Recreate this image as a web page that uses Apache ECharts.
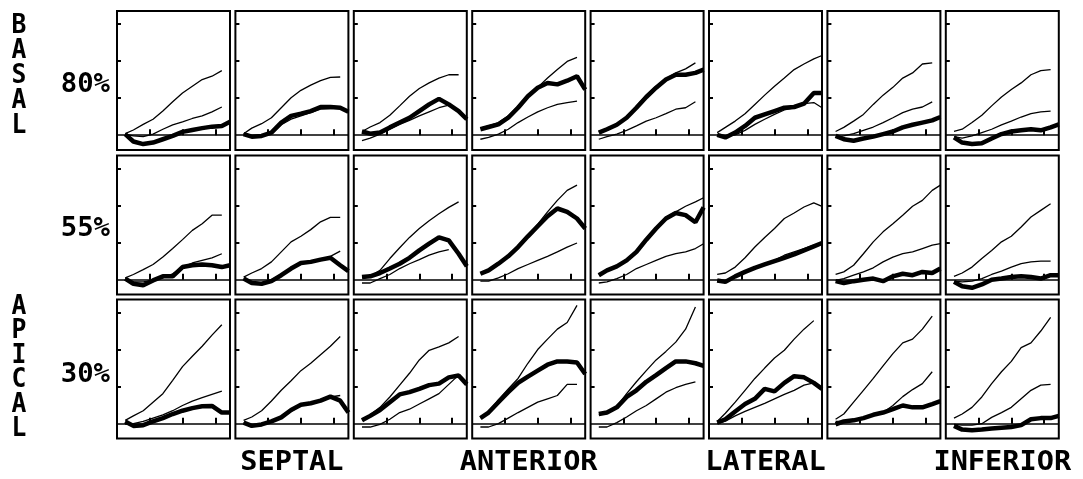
<!DOCTYPE html>
<html>
<head>
<meta charset="utf-8">
<script src="https://cdn.jsdelivr.net/npm/echarts@6/dist/echarts.min.js"></script>
<style>
  html, body { margin: 0; padding: 0; background: #fff; }
  #chart { width: 1083px; height: 479px; }
</style>
</head>
<body>
<div id="chart"></div>
<script>
// ---- data ----
const XS = [0.25, 0.5, 0.8, 1.1, 1.4, 1.7, 2.0, 2.3, 2.6, 2.9, 3.2, 3.45];
const X_TICKS = [1, 2, 3];
const Y_TICKS = [1, 2, 3];
const ROW_LABELS = ['80%', '55%', '30%'];
const SEGMENT_LABELS = ['SEPTAL', 'ANTERIOR', 'LATERAL', 'INFERIOR'];
const SEGMENT_COLS = [1, 3, 5, 7];
const REGION_TOP = 'BASAL';
const REGION_BOTTOM = 'APICAL';

// Row 1 (basal, 80%)
const basalThick = [
  [0.03, -0.17, -0.24, -0.20, -0.11, -0.02, 0.09, 0.14, 0.19, 0.23, 0.25, 0.36],
  [0.03, -0.04, -0.02, 0.07, 0.34, 0.52, 0.58, 0.65, 0.76, 0.76, 0.74, 0.63],
  [0.10, 0.04, 0.07, 0.21, 0.34, 0.47, 0.65, 0.83, 0.98, 0.83, 0.65, 0.43],
  [0.16, 0.22, 0.29, 0.47, 0.74, 1.05, 1.28, 1.41, 1.37, 1.47, 1.59, 1.23],
  [0.07, 0.16, 0.28, 0.47, 0.74, 1.03, 1.28, 1.50, 1.63, 1.63, 1.68, 1.77],
  [0.01, -0.06, 0.07, 0.25, 0.47, 0.56, 0.65, 0.74, 0.76, 0.85, 1.14, 1.14],
  [-0.02, -0.11, -0.15, -0.09, -0.04, 0.03, 0.10, 0.21, 0.28, 0.34, 0.40, 0.49],
  [-0.06, -0.20, -0.24, -0.22, -0.09, 0.03, 0.10, 0.13, 0.16, 0.13, 0.21, 0.29]
];
const basalUpper = [
  [0.04, 0.14, 0.29, 0.43, 0.65, 0.90, 1.14, 1.32, 1.50, 1.59, 1.74, null],
  [0.04, 0.19, 0.31, 0.47, 0.74, 1.01, 1.21, 1.35, 1.47, 1.56, 1.57, null],
  [0.10, 0.22, 0.34, 0.54, 0.79, 1.05, 1.26, 1.41, 1.54, 1.63, 1.63, null],
  [0.19, 0.25, 0.34, 0.52, 0.79, 1.08, 1.29, 1.54, 1.77, 1.99, 2.10, null],
  [0.09, 0.18, 0.29, 0.49, 0.79, 1.08, 1.32, 1.52, 1.68, 1.79, 1.95, null],
  [0.07, 0.21, 0.38, 0.58, 0.83, 1.08, 1.32, 1.54, 1.77, 1.92, 2.06, 2.15],
  [0.10, 0.21, 0.38, 0.56, 0.83, 1.08, 1.29, 1.54, 1.68, 1.92, 1.95, null],
  [0.10, 0.16, 0.34, 0.54, 0.79, 1.03, 1.23, 1.41, 1.63, 1.74, 1.77, null]
];
const basalLower = [
  [0.03, -0.02, -0.04, 0.03, 0.16, 0.28, 0.36, 0.45, 0.52, 0.63, 0.76, null],
  [0.03, -0.03, -0.02, 0.04, 0.28, 0.43, 0.52, 0.61, 0.70, 0.72, 0.74, null],
  [-0.15, -0.08, 0.03, 0.16, 0.29, 0.40, 0.52, 0.63, 0.74, 0.81, null, null],
  [-0.11, -0.06, 0.03, 0.16, 0.34, 0.49, 0.63, 0.74, 0.83, 0.88, 0.92, null],
  [-0.11, -0.04, 0.03, 0.13, 0.25, 0.38, 0.47, 0.58, 0.70, 0.74, 0.90, null],
  [0.01, -0.04, 0.01, 0.13, 0.29, 0.43, 0.56, 0.68, 0.74, 0.85, 0.88, 0.74],
  [-0.06, -0.02, 0.04, 0.13, 0.22, 0.34, 0.47, 0.61, 0.70, 0.76, 0.90, null],
  [-0.04, -0.08, -0.02, 0.07, 0.16, 0.28, 0.38, 0.49, 0.58, 0.63, 0.65, null]
];

// Row 2 (55%)
const midThick = [
  [0.03, -0.11, -0.15, -0.02, 0.09, 0.09, 0.34, 0.39, 0.41, 0.39, 0.34, 0.39],
  [0.03, -0.09, -0.11, -0.04, 0.12, 0.30, 0.45, 0.48, 0.54, 0.59, 0.39, 0.23],
  [0.07, 0.09, 0.18, 0.30, 0.43, 0.59, 0.79, 0.97, 1.14, 1.06, 0.70, 0.36],
  [0.16, 0.25, 0.43, 0.63, 0.88, 1.17, 1.44, 1.71, 1.92, 1.83, 1.65, 1.38],
  [0.12, 0.25, 0.36, 0.52, 0.75, 1.08, 1.38, 1.65, 1.80, 1.74, 1.55, 1.95],
  [-0.02, -0.06, 0.09, 0.21, 0.32, 0.41, 0.50, 0.59, 0.68, 0.79, 0.90, 0.99],
  [-0.04, -0.09, -0.04, 0.00, 0.03, -0.04, 0.09, 0.16, 0.12, 0.21, 0.18, 0.30],
  [-0.06, -0.18, -0.22, -0.13, 0.00, 0.03, 0.07, 0.09, 0.07, 0.03, 0.12, 0.12]
];
const midUpper = [
  [0.05, 0.14, 0.27, 0.41, 0.61, 0.84, 1.08, 1.33, 1.51, 1.74, 1.74, null],
  [0.07, 0.18, 0.30, 0.48, 0.75, 1.02, 1.17, 1.35, 1.56, 1.68, 1.68, null],
  [0.09, 0.09, 0.25, 0.57, 0.86, 1.14, 1.38, 1.59, 1.78, 1.95, 2.10, null],
  [0.18, 0.27, 0.45, 0.66, 0.91, 1.20, 1.50, 1.83, 2.14, 2.41, 2.55, null],
  [0.14, 0.27, 0.38, 0.54, 0.77, 1.11, 1.41, 1.68, 1.83, 1.98, 2.10, 2.21],
  [0.14, 0.18, 0.34, 0.59, 0.88, 1.14, 1.38, 1.65, 1.80, 1.96, 2.07, 1.98],
  [0.14, 0.21, 0.39, 0.70, 1.02, 1.29, 1.51, 1.74, 1.98, 2.14, 2.41, 2.55],
  [0.09, 0.18, 0.34, 0.57, 0.79, 1.02, 1.17, 1.42, 1.69, 1.87, 2.05, null]
];
const midLower = [
  [0.03, -0.06, -0.06, -0.02, 0.05, 0.16, 0.34, 0.45, 0.52, 0.59, 0.70, null],
  [0.03, -0.06, -0.09, 0.00, 0.14, 0.30, 0.43, 0.48, 0.52, 0.63, 0.77, null],
  [-0.09, -0.09, 0.03, 0.14, 0.30, 0.43, 0.54, 0.66, 0.75, 0.81, null, null],
  [-0.04, -0.04, 0.05, 0.16, 0.30, 0.41, 0.52, 0.63, 0.75, 0.88, 0.99, null],
  [-0.09, -0.06, 0.03, 0.14, 0.30, 0.41, 0.52, 0.63, 0.70, 0.75, 0.84, 0.97],
  [-0.02, -0.05, 0.07, 0.20, 0.31, 0.40, 0.52, 0.66, 0.75, 0.84, 0.93, null],
  [-0.02, 0.03, 0.12, 0.21, 0.32, 0.48, 0.61, 0.70, 0.75, 0.84, 0.93, 0.97],
  [-0.04, -0.06, -0.04, 0.03, 0.14, 0.23, 0.34, 0.43, 0.48, 0.50, 0.50, null]
];

// Row 3 (apical, 30%)
const apicalThick = [
  [0.06, -0.06, -0.04, 0.06, 0.15, 0.26, 0.35, 0.42, 0.47, 0.48, 0.30, 0.30],
  [0.03, -0.06, -0.02, 0.06, 0.17, 0.37, 0.51, 0.55, 0.62, 0.73, 0.62, 0.30],
  [0.09, 0.21, 0.37, 0.58, 0.79, 0.85, 0.94, 1.04, 1.08, 1.25, 1.30, 1.06],
  [0.15, 0.30, 0.58, 0.85, 1.10, 1.27, 1.43, 1.59, 1.68, 1.68, 1.65, 1.34],
  [0.26, 0.30, 0.44, 0.72, 0.90, 1.13, 1.31, 1.50, 1.68, 1.68, 1.63, 1.56],
  [0.03, 0.12, 0.33, 0.53, 0.67, 0.94, 0.87, 1.10, 1.28, 1.25, 1.10, 0.94],
  [-0.02, 0.06, 0.09, 0.15, 0.24, 0.30, 0.39, 0.49, 0.44, 0.44, 0.53, 0.61],
  [-0.06, -0.16, -0.18, -0.16, -0.13, -0.11, -0.09, -0.04, 0.12, 0.15, 0.15, 0.21]
];
const apicalUpper = [
  [0.09, 0.21, 0.35, 0.58, 0.81, 1.17, 1.54, 1.82, 2.09, 2.39, 2.67, null],
  [0.09, 0.18, 0.35, 0.61, 0.90, 1.16, 1.43, 1.63, 1.86, 2.09, 2.35, null],
  [0.09, 0.24, 0.44, 0.72, 1.04, 1.36, 1.72, 1.98, 2.07, 2.18, 2.35, null],
  [0.15, 0.33, 0.64, 0.94, 1.22, 1.63, 2.00, 2.28, 2.55, 2.73, 3.19, null],
  [0.24, 0.30, 0.46, 0.81, 1.13, 1.43, 1.72, 1.95, 2.20, 2.55, 3.15, null],
  [0.06, 0.28, 0.58, 0.90, 1.22, 1.50, 1.77, 1.98, 2.28, 2.55, 2.78, null],
  [0.12, 0.26, 0.58, 0.90, 1.22, 1.56, 1.89, 2.18, 2.28, 2.55, 2.90, null],
  [0.15, 0.26, 0.44, 0.72, 1.08, 1.40, 1.68, 2.05, 2.18, 2.50, 2.87, null]
];
const apicalLower = [
  [-0.02, 0.00, 0.06, 0.15, 0.24, 0.35, 0.49, 0.61, 0.70, 0.79, 0.88, null],
  [0.03, -0.04, -0.02, 0.05, 0.15, 0.33, 0.49, 0.53, 0.61, 0.72, 0.76, null],
  [-0.09, -0.09, -0.02, 0.12, 0.30, 0.39, 0.53, 0.67, 0.81, 1.06, 1.31, null],
  [-0.09, -0.09, 0.00, 0.15, 0.30, 0.44, 0.58, 0.67, 0.76, 1.06, 1.06, null],
  [-0.09, -0.09, 0.03, 0.18, 0.35, 0.49, 0.67, 0.85, 0.97, 1.06, 1.13, null],
  [0.00, 0.07, 0.21, 0.33, 0.44, 0.55, 0.67, 0.79, 0.90, 1.04, 1.10, null],
  [0.06, 0.07, 0.09, 0.15, 0.21, 0.30, 0.49, 0.73, 0.92, 1.08, 1.40, null],
  [-0.02, -0.04, -0.04, 0.00, 0.17, 0.30, 0.44, 0.67, 0.90, 1.04, 1.06, null]
];

// ---- layout ----
const ROWS = [
  { thick: basalThick, upper: basalUpper, lower: basalLower },
  { thick: midThick, upper: midUpper, lower: midLower },
  { thick: apicalThick, upper: apicalUpper, lower: apicalLower }
];
const LEFT0 = 117, COL_STEP = 118.4, PANEL_W = 113, PANEL_H = 139;
const ROW_TOPS = [11, 155.5, 299.5];
const FONT = 'bold 26px "DejaVu Sans Mono"';

function pairs(ys) {
  const out = [];
  ys.forEach((y, k) => { if (y !== null) out.push([XS[k], y]); });
  return out;
}

const grid = [], xAxis = [], yAxis = [], series = [];
let idx = 0;
ROWS.forEach((row, r) => {
  for (let c = 0; c < 8; c++) {
    grid.push({
      left: LEFT0 + c * COL_STEP, top: ROW_TOPS[r], width: PANEL_W, height: PANEL_H,
      show: true, borderColor: '#000', borderWidth: 2, backgroundColor: '#fff'
    });
    xAxis.push({
      type: 'value', gridIndex: idx, min: 0, max: 3.45,
      axisLine: { show: false }, splitLine: { show: false },
      axisLabel: { show: false },
      axisTick: { show: true, inside: true, length: 6, customValues: X_TICKS,
                  lineStyle: { color: '#000', width: 2 } }
    });
    yAxis.push({
      type: 'value', gridIndex: idx, min: -0.4, max: 3.35,
      axisLine: { show: false }, splitLine: { show: false },
      axisLabel: { show: false },
      axisTick: { show: true, inside: true, length: 4, customValues: Y_TICKS,
                  lineStyle: { color: '#000', width: 2 } }
    });
    const common = { type: 'line', xAxisIndex: idx, yAxisIndex: idx, symbol: 'none',
                     animation: false, silent: true };
    series.push(Object.assign({}, common, {
      data: pairs(row.upper[c]), lineStyle: { color: '#000', width: 1.3 },
      markLine: { silent: true, symbol: 'none', label: { show: false },
                  lineStyle: { color: '#000', width: 1.5, type: 'solid' },
                  data: [{ yAxis: 0 }], animation: false }
    }));
    series.push(Object.assign({}, common, {
      data: pairs(row.lower[c]), lineStyle: { color: '#000', width: 1.3 }
    }));
    series.push(Object.assign({}, common, {
      data: pairs(row.thick[c]), lineStyle: { color: '#000', width: 4.5 }
    }));
    idx++;
  }
});

const graphic = [];
function txt(text, x, y, align, sx) {
  graphic.push({
    type: 'text', x: x, y: y, scaleX: sx || 1, silent: true,
    style: { text: text, font: FONT, fill: '#000', textAlign: align, textVerticalAlign: 'middle' }
  });
}
REGION_TOP.split('').forEach((ch, k) => txt(ch, 19, 26.7 + k * 25, 'center', 0.95));
REGION_BOTTOM.split('').forEach((ch, k) => txt(ch, 19, 307.3 + k * 24.4, 'center', 0.95));
const ROW_LABEL_Y = [85.3, 229.5, 375.5];
ROW_LABELS.forEach((t, k) => txt(t, 110, ROW_LABEL_Y[k], 'right', 1.05));
SEGMENT_LABELS.forEach((t, k) => {
  const cx = LEFT0 + SEGMENT_COLS[k] * COL_STEP + PANEL_W / 2;
  txt(t, cx, 463.5, 'center', 1.1);
});

const chart = echarts.init(document.getElementById('chart'));
chart.setOption({
  animation: false,
  backgroundColor: '#fff',
  grid: grid, xAxis: xAxis, yAxis: yAxis, series: series, graphic: graphic
});
</script>
</body>
</html>
